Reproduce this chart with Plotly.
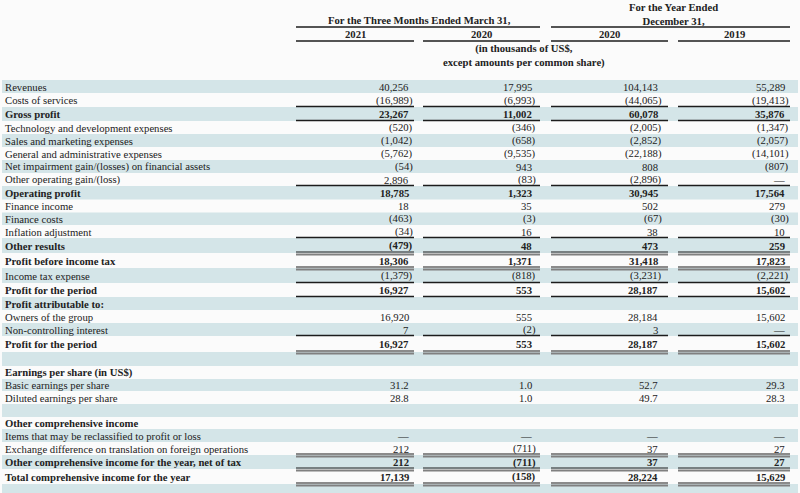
import plotly.graph_objects as go

# ---------------- data ----------------
labels = [
    "Revenues", "Costs of services", "Gross profit",
    "Technology and development expenses", "Sales and marketing expenses",
    "General and administrative expenses",
    "Net impairment gain/(losses) on financial assets",
    "Other operating gain/(loss)", "Operating profit", "Finance income",
    "Finance costs", "Inflation adjustment", "Other results",
    "Profit before income tax", "Income tax expense", "Profit for the period",
    "Profit attributable to:", "Owners of the group",
    "Non-controlling interest", "Profit for the period", "",
    "Earnings per share (in US$)", "Basic earnings per share",
    "Diluted earnings per share", "", "Other comprehensive income",
    "Items that may be reclassified to profit or loss",
    "Exchange difference on translation on foreign operations",
    "Other comprehensive income for the year, net of tax",
    "Total comprehensive income for the year", "",
]
bold_rows = [2, 8, 12, 13, 15, 16, 19, 21, 25, 28, 29]

# None = blank cell, 0 = em dash
q1_2021 = [40256, -16989, 23267, -520, -1042, -5762, -54, 2896, 18785, 18, -463, -34,
           -479, 18306, -1379, 16927, None, 16920, 7, 16927, None, None, 31.2, 28.8,
           None, None, 0, 212, 212, 17139, None]
q1_2020 = [17995, -6993, 11002, -346, -658, -9535, 943, -83, 1323, 35, -3, 16,
           48, 1371, -818, 553, None, 555, -2, 553, None, None, 1.0, 1.0,
           None, None, 0, -711, -711, -158, None]
fy_2020 = [104143, -44065, 60078, -2005, -2852, -22188, 808, -2896, 30945, 502, -67, 38,
           473, 31418, -3231, 28187, None, 28184, 3, 28187, None, None, 52.7, 49.7,
           None, None, 0, 37, 37, 28224, None]
fy_2019 = [55289, -19413, 35876, -1347, -2057, -14101, -807, 0, 17564, 279, -30, 10,
           259, 17823, -2221, 15602, None, 15602, 0, 15602, None, None, 29.3, 28.3,
           None, None, 0, 27, 27, 15629, None]
columns = [q1_2021, q1_2020, fy_2020, fy_2019]
col_years = ["2021", "2020", "2020", "2019"]
group_headers = ["For the Three Months Ended March 31,", "For the Year Ended<br>December 31,"]
unit_note = "(in thousands of US$,<br>except amounts per common share)"

single_under = [1, 2, 7, 11, 14, 15, 18]
double_under = [12, 13, 19, 27, 28, 29]

# ---------------- layout geometry ----------------
W, H = 800, 493
row_edges = [80, 93, 107, 121, 134, 147, 160, 173, 186, 199.5, 212.5, 225, 238, 253,
             268, 283, 297, 310, 323, 336, 352, 366, 379, 391, 404, 417, 429, 442,
             455, 469, 484, 497]
col_spans = [(296, 414), (423, 540), (551, 668), (678, 790)]
num_right = [410, 533, 659, 786]
paren_extra = 4

SHADE = "#d4e5e8"
BG = "#fbfbfb"
DARK = "#1c1c1c"
GRAY = "#808080"
FONT = "Liberation Serif, Times New Roman, serif"
TXT = "#222222"
FS = 10.7


def fmt(v):
    if v is None:
        return None
    if v == 0:
        return "—"
    neg = v < 0
    a = abs(v)
    s = f"{a:.1f}" if isinstance(a, float) else f"{a:,}"
    return f"({s})" if neg else s


shapes = []
annotations = []

# row shading
for i in range(len(labels)):
    if i % 2 == 0:
        shapes.append(dict(type="rect", x0=2, x1=798, y0=row_edges[i], y1=row_edges[i + 1],
                           fillcolor=SHADE, line=dict(width=0), layer="below"))

# header lines
for (x0, x1) in col_spans:
    shapes.append(dict(type="line", x0=x0, x1=x1, y0=41, y1=41, line=dict(color=DARK, width=1.5)))
shapes.append(dict(type="line", x0=296, x1=540, y0=27, y1=27, line=dict(color=DARK, width=1.5)))
shapes.append(dict(type="line", x0=551, x1=790, y0=27, y1=27, line=dict(color=DARK, width=1.5)))

# underlines
for i in single_under + double_under:
    y = row_edges[i + 1]
    for (x0, x1) in col_spans:
        if i in double_under:
            shapes.append(dict(type="line", x0=x0, x1=x1, y0=y - 1, y1=y - 1,
                               line=dict(color=DARK, width=1.2)))
            shapes.append(dict(type="line", x0=x0, x1=x1, y0=y + 1.5, y1=y + 1.5,
                               line=dict(color=GRAY, width=2)))
        else:
            shapes.append(dict(type="line", x0=x0, x1=x1, y0=y - 0.5, y1=y - 0.5,
                               line=dict(color=DARK, width=1.3)))


def add_text(x, y, text, anchor="left", bold=False):
    t = f"<b>{text}</b>" if bold else text
    annotations.append(dict(x=x, y=y, xref="x", yref="y", text=t, showarrow=False,
                            xanchor=anchor, yanchor="middle", align="center", borderpad=0,
                            font=dict(family=FONT, size=FS, color=TXT)))


# headers
add_text(419, 20, group_headers[0], "center", True)
add_text(673, 14, group_headers[1], "center", True)
for (x0, x1), yr in zip(col_spans, col_years):
    add_text((x0 + x1) / 2, 34, yr, "center", True)
add_text(524, 55, unit_note, "center", True)

# body
for i, lab in enumerate(labels):
    yc = (row_edges[i] + row_edges[i + 1]) / 2
    b = i in bold_rows
    if lab:
        add_text(4, yc, lab, "left", b)
    for c, col in enumerate(columns):
        s = fmt(col[i])
        if s is None:
            continue
        x = num_right[c] + (paren_extra if s.startswith("(") else 0)
        add_text(x, yc, s, "right", b)

fig = go.Figure()
fig.update_layout(
    width=W, height=H, margin=dict(l=0, r=0, t=0, b=0),
    paper_bgcolor=BG, plot_bgcolor=BG,
    xaxis=dict(range=[0, W], visible=False, fixedrange=True),
    yaxis=dict(range=[H, 0], visible=False, fixedrange=True),
    shapes=shapes, annotations=annotations, showlegend=False,
)
fig.write_html(
    "out.html",
    config={"displayModeBar": False},
    post_script="document.body.style.margin='0';document.body.style.padding='0';"
                "document.body.style.overflow='hidden';"
                "document.body.style.background='" + BG + "';",
)
